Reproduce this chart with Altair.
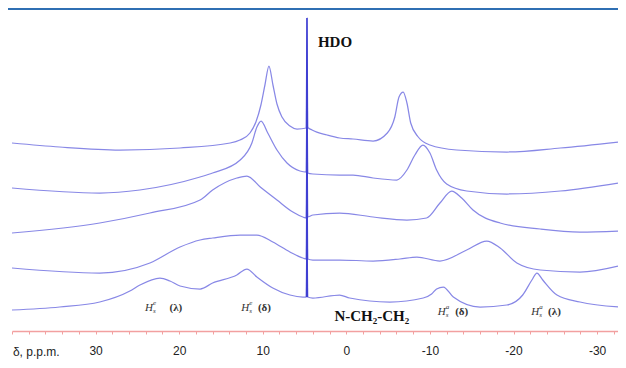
import altair as alt
import pandas as pd

# ---- spectra: chemical shift (ppm) and intensity (arbitrary units above baseline) ----
t1_ppm = [40.0, 34.3, 29.5, 25.9, 24.7, 22.3, 21.1, 19.9, 17.5, 16.0, 13.1, 11.9, 10.7, 8.8, 6.75, 5.2,
          4.77, 4.71, 4.65, 4.0, 0.8, -0.4, -5.2, -9.2, -10.2, -10.8, -11.6, -12.8, -16.0, -19.2, -21.1,
          -22.2, -22.8, -23.5, -25.2, -27.95, -32.5]
t1_int = [21, 24, 29, 40, 46, 53, 50, 45, 42, 48, 56, 62, 54, 43, 36, 34,
          34, 101, 34, 33, 36, 33, 29, 33, 37, 42, 44, 34, 24, 26, 36,
          51, 58, 51, 36, 29, 24]

t2_ppm = [40.0, 29.5, 23.5, 19.9, 17.5, 16.0, 12.7, 10.7, 8.8, 6.75, 5.2, 4.77, 4.71, 4.65, 4.0, 0.8,
          -3.2, -6.4, -8.45, -11.2, -14.4, -16.8, -18.4, -20.4, -23.2, -27.95, -32.5]
t2_int = [63, 58, 68, 84, 91, 93, 96, 96, 89, 79, 73, 72, 161, 72, 71, 71,
          70, 72, 74, 70, 81, 90, 83, 68, 61, 59, 65]

t3_ppm = [40.0, 29.5, 23.5, 17.5, 16.0, 13.1, 11.9, 10.3, 8.3, 6.4, 5.2, 4.77, 4.71, 4.65, 4.0, 0.8,
          -3.2, -7.25, -9.6, -11.2, -12.6, -13.8, -15.15, -18.4, -23.2, -27.95, -32.5]
t3_int = [98, 108, 118, 131, 141, 153, 155, 144, 131, 119, 114, 113, 201, 114, 116, 118,
          114, 111, 113, 128, 140, 133, 121, 108, 102, 99, 100]

t4_ppm = [40.0, 29.5, 24.7, 17.5, 16.0, 12.7, 11.3, 10.7, 10.2, 9.4, 8.3, 7.1, 5.55, 4.77, 4.71, 4.65,
          4.0, 0.8, -0.8, -3.2, -6.05, -7.25, -8.2, -9.16, -10.0, -10.8, -12.0, -14.4, -19.2, -25.6, -32.5]
t4_int = [143, 138, 141, 154, 158, 171, 188, 204, 210, 198, 181, 168, 160, 159, 241, 158,
          157, 156, 156, 153, 151, 161, 176, 186, 178, 161, 147, 140, 137, 140, 148]

t5_ppm = [40.0, 34.3, 27.1, 19.9, 13.9, 12.73, 11.53, 10.82, 10.22, 9.74, 9.26, 8.78, 8.30, 7.70, 6.75,
          5.9, 4.77, 4.71, 4.65, 4.1, 2.3, 0.8, -0.8, -3.2, -4.9, -5.8, -6.3, -6.8, -7.25, -7.7, -8.6,
          -10.0, -13.2, -19.2, -25.6, -32.5]
t5_int = [188, 184, 181, 183, 188, 191, 198, 209, 226, 246, 265, 246, 227, 214, 205,
          202, 203, 313, 204, 201, 196, 193, 192, 190, 198, 214, 234, 239, 228, 208, 194,
          186, 181, 179, 183, 189]

# ---- axis ticks ----
tick_values = list(range(40, -33, -2))

# ---- annotations ----
hdo_ppm, hdo_int, hdo_text = [1.36], [289], ["HDO"]
nch_ppm, nch_int, nch_text = [-3.05], [15], ["N-CH\u2082-CH\u2082"]
delta_ppm, delta_int, delta_text = [37.1], [-21], ["\u03b4, p.p.m."]

h_ppm = [23.6, 12.1, -11.4, -22.6]
h_int = [23, 23, 19, 19]
h_sup = ["e", "e", "a", "a"]
h_sub = ["s", "s", "s", "s"]
par_ppm = [20.4, 9.8, -13.8, -24.9]
par_text = ["(\u03bb)", "(\u03b4)", "(\u03b4)", "(\u03bb)"]

# ---- build tables ----
rows = []
for k, (xs, ys) in enumerate([(t1_ppm, t1_int), (t2_ppm, t2_int), (t3_ppm, t3_int),
                               (t4_ppm, t4_int), (t5_ppm, t5_int)], start=1):
    for i, (x, y) in enumerate(zip(xs, ys)):
        rows.append({"ppm": x, "v": y, "trace": f"T{k}", "order": i})
spec = pd.DataFrame(rows)

hdo_df = pd.DataFrame({"ppm": hdo_ppm, "v": hdo_int, "t": hdo_text})
nch_df = pd.DataFrame({"ppm": nch_ppm, "v": nch_int, "t": nch_text})
delta_df = pd.DataFrame({"ppm": delta_ppm, "v": delta_int, "t": delta_text})
h_df = pd.DataFrame({"ppm": h_ppm, "v": h_int, "sup": h_sup, "sub": h_sub, "h": ["H"] * len(h_ppm)})
par_df = pd.DataFrame({"ppm": par_ppm, "v": h_int, "t": par_text})

label_expr = ("abs(datum.value) <= 30 && datum.value % 10 == 0 ? "
              "(datum.value < 0 ? '-' + abs(datum.value) : '' + datum.value) : ''")

xaxis = alt.Axis(values=tick_values, title=None, grid=False,
                 domainColor="#f2a0a0", domainWidth=1.5,
                 tickColor="#f2a0a0", tickSize=3, tickWidth=1,
                 labelExpr=label_expr, labelFont="Liberation Sans", labelFontSize=12,
                 labelColor="#222222", labelPadding=11, labelOverlap=False, labelFlush=False)
X = alt.X("ppm:Q", scale=alt.Scale(domain=[-32.5, 40], reverse=True, nice=False, zero=False), axis=xaxis)
Y = alt.Y("v:Q", scale=alt.Scale(domain=[0, 323], nice=False, zero=False), axis=None)

lines = alt.Chart(spec).mark_line(interpolate="monotone", color="#8888e6", strokeWidth=1.25).encode(
    x=X, y=Y, detail="trace:N", order="order:Q")

spike = alt.Chart(spec).transform_filter("datum.ppm >= 4.6 && datum.ppm <= 4.8").mark_line(
    color="#3f3fd2", strokeWidth=1.5).encode(x=X, y=Y, detail="trace:N", order="order:Q")

hdo = alt.Chart(hdo_df).mark_text(font="Liberation Serif", fontWeight="bold", fontSize=15,
                                  align="center", baseline="middle", color="#111111").encode(x=X, y=Y, text="t:N")
nch = alt.Chart(nch_df).mark_text(font="Liberation Serif", fontWeight="bold", fontSize=15,
                                  align="center", baseline="middle", color="#111111").encode(x=X, y=Y, text="t:N")
delta = alt.Chart(delta_df).mark_text(font="Liberation Sans", fontSize=12,
                                      align="center", baseline="middle", color="#222222").encode(x=X, y=Y, text="t:N")

h_main = alt.Chart(h_df).mark_text(font="Liberation Serif", fontStyle="italic", fontSize=11,
                                   align="center", baseline="middle", color="#333333").encode(x=X, y=Y, text="h:N")
h_sup_l = alt.Chart(h_df).mark_text(font="Liberation Serif", fontStyle="italic", fontSize=7, dx=4, dy=-5,
                                    align="left", baseline="middle", color="#333333").encode(x=X, y=Y, text="sup:N")
h_sub_l = alt.Chart(h_df).mark_text(font="Liberation Serif", fontStyle="italic", fontSize=7, dx=4, dy=3,
                                    align="left", baseline="middle", color="#333333").encode(x=X, y=Y, text="sub:N")
par = alt.Chart(par_df).mark_text(font="Liberation Serif", fontWeight="bold", fontSize=11,
                                  align="center", baseline="middle", color="#333333").encode(x=X, y=Y, text="t:N")

top_rule = alt.Chart(hdo_df).mark_rule(color="#2f6fb3", strokeWidth=2).encode(
    x=alt.value(-4), x2=alt.value(606), y=alt.value(1))

chart = alt.layer(top_rule, lines, spike, hdo, nch, delta, h_main, h_sup_l, h_sub_l, par).properties(
    width=606, height=323,
    autosize=alt.AutoSizeParams(type="none"),
    padding={"left": 4, "top": 0, "right": 0, "bottom": 37},
).configure_view(stroke=None)

chart.save("out.html", embed_options={"renderer": "svg", "actions": False})
